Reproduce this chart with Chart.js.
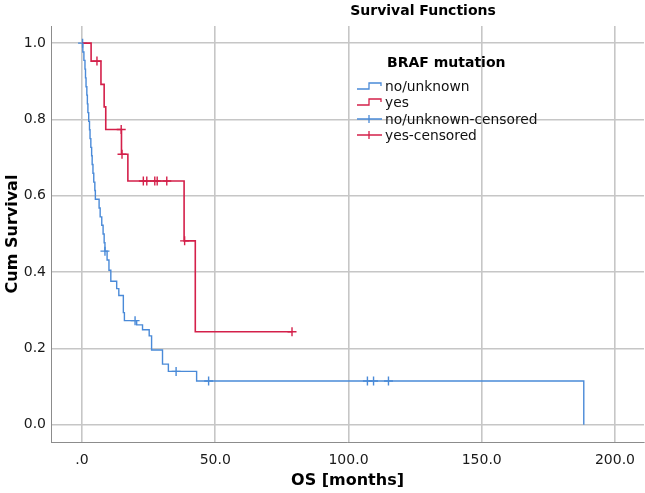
<!DOCTYPE html>
<html>
<head>
<meta charset="utf-8">
<script src="https://cdn.jsdelivr.net/npm/chart.js@4"></script>
<style>
html,body{margin:0;padding:0;background:#fff;}
#wrap{width:645px;height:493px;}
</style>
</head>
<body>
<div id="wrap"><canvas id="c" width="645" height="493"></canvas></div>
<script>
// ---- data ----
const chartTitle = 'Survival Functions';
const legendTitle = 'BRAF mutation';
const seriesNames = ['no/unknown', 'yes', 'no/unknown-censored', 'yes-censored'];

const blueTimes = [0, 0.3, 0.7, 1.1, 1.3, 1.5, 1.8, 2.0, 2.2, 2.5, 2.8, 3.0, 3.3, 3.6, 3.8, 4.1, 4.4, 4.8, 5.0, 6.4, 6.8, 7.4, 7.9, 8.3, 8.6, 9.4, 10.1, 10.8, 13.0, 13.8, 15.5, 15.9, 20.5, 22.7, 25.2, 26.1, 30.2, 32.4, 43.0, 188.3];
const blueSurv  = [1.000, 0.977, 0.955, 0.932, 0.909, 0.886, 0.864, 0.841, 0.818, 0.795, 0.773, 0.750, 0.727, 0.705, 0.682, 0.659, 0.636, 0.614, 0.591, 0.568, 0.545, 0.523, 0.500, 0.477, 0.455, 0.432, 0.405, 0.376, 0.357, 0.339, 0.294, 0.273, 0.262, 0.249, 0.233, 0.196, 0.159, 0.140, 0.115, 0.000];
const blueCensorTimes = [0.2, 8.6, 19.9, 35.3, 47.5, 107.1, 109.4, 115.0];
const blueCensorSurv  = [1.000, 0.455, 0.273, 0.140, 0.115, 0.115, 0.115, 0.115];

const redTimes = [0, 3.4, 7.1, 8.3, 8.9, 14.8, 17.2, 38.3, 42.5, 78.8];
const redSurv  = [1.000, 0.953, 0.892, 0.833, 0.774, 0.709, 0.639, 0.482, 0.244, 0.244];
const redCensorTimes = [5.6, 14.7, 15.0, 23.0, 24.3, 27.3, 28.2, 31.8, 38.5, 78.8];
const redCensorSurv  = [0.953, 0.774, 0.709, 0.639, 0.639, 0.639, 0.639, 0.639, 0.482, 0.244];

const xTicks = [0, 50, 100, 150, 200];
const xTickLabels = ['.0', '50.0', '100.0', '150.0', '200.0'];
const yTicks = [0, 0.2, 0.4, 0.6, 0.8, 1.0];
const yTickLabels = ['0.0', '0.2', '0.4', '0.6', '0.8', '1.0'];
const xTitle = 'OS [months]';
const yTitle = 'Cum Survival';

// ---- styles ----
const BLUE = '#4a8ad8';
const RED = '#d4204a';
const GRID = '#c6c6c6';
const FONT = "'DejaVu Sans', sans-serif";

function pts(xs, ys) { return xs.map((x, i) => ({x: x, y: ys[i]})); }

const overlay = {
  id: 'overlay',
  afterDraw(chart) {
    const ctx = chart.ctx;
    ctx.save();
    ctx.fillStyle = '#000';
    ctx.textBaseline = 'middle';
    ctx.font = 'bold 14px ' + FONT;
    ctx.textAlign = 'center';
    ctx.fillText(chartTitle, 423, 11);
    ctx.textAlign = 'left';
    ctx.fillText(legendTitle, 387, 63);
    ctx.font = '13.8px ' + FONT;
    const ys = [86, 102, 119, 135];
    const cols = [BLUE, RED, BLUE, RED];
    for (let i = 0; i < 4; i++) {
      const y = ys[i];
      ctx.strokeStyle = cols[i];
      ctx.lineWidth = 1.3;
      ctx.beginPath();
      if (i < 2) {
        ctx.moveTo(357, y + 3); ctx.lineTo(369, y + 3); ctx.lineTo(369, y - 3);
        ctx.lineTo(381, y - 3); ctx.lineTo(381, y);
      } else {
        ctx.moveTo(357, y); ctx.lineTo(382, y);
        ctx.moveTo(369, y - 4); ctx.lineTo(369, y + 4);
      }
      ctx.stroke();
      ctx.fillStyle = '#111';
      ctx.fillText(seriesNames[i], 385, y + 1);
    }
    ctx.restore();
  }
};

new Chart(document.getElementById('c'), {
  type: 'scatter',
  data: {
    datasets: [
      { label: seriesNames[0], data: pts(blueTimes, blueSurv), showLine: true, stepped: 'before',
        borderColor: BLUE, borderWidth: 1.4, pointRadius: 0, fill: false },
      { label: seriesNames[1], data: pts(redTimes, redSurv), showLine: true, stepped: 'before',
        borderColor: RED, borderWidth: 1.6, pointRadius: 0, fill: false },
      { label: seriesNames[2], data: pts(blueCensorTimes, blueCensorSurv), showLine: false,
        pointStyle: 'cross', pointRadius: 4.5, borderColor: BLUE, borderWidth: 1.4 },
      { label: seriesNames[3], data: pts(redCensorTimes, redCensorSurv), showLine: false,
        pointStyle: 'cross', pointRadius: 4.5, borderColor: RED, borderWidth: 1.4 }
    ]
  },
  options: {
    responsive: false,
    animation: false,
    layout: { autoPadding: false, padding: { top: 26, right: 1, left: 0, bottom: 0 } },
    plugins: { legend: { display: false }, title: { display: false }, tooltip: { enabled: false } },
    scales: {
      x: {
        type: 'linear', min: -11.65, max: 210.9,
        afterBuildTicks: s => { s.ticks = xTicks.map(v => ({value: v})); },
        afterFit: s => { s.height = 51; s.paddingLeft = 0; s.paddingRight = 0; },
        ticks: { callback: v => { const i = xTicks.indexOf(v); return i >= 0 ? xTickLabels[i] : ''; },
                 font: { family: FONT, size: 14 }, color: '#1a1a1a', padding: 10, maxRotation: 0 },
        grid: { color: GRID, lineWidth: 1.6, drawTicks: false },
        border: { color: '#8c8c8c', width: 1 },
        title: { display: true, text: xTitle, font: { family: FONT, size: 16, weight: 'bold' }, color: '#000', padding: { top: 0, bottom: 3 } }
      },
      y: {
        type: 'linear', min: -0.045, max: 1.045,
        afterBuildTicks: s => { s.ticks = yTicks.map(v => ({value: v})); },
        afterFit: s => { s.width = 51; s.paddingTop = 0; s.paddingBottom = 0; },
        ticks: { callback: v => { const i = yTicks.findIndex(t => Math.abs(t - v) < 1e-9); return i >= 0 ? yTickLabels[i] : ''; },
                 font: { family: FONT, size: 14 }, color: '#1a1a1a', padding: 5 },
        grid: { color: GRID, lineWidth: 1.6, drawTicks: false },
        border: { color: '#8c8c8c', width: 1 },
        title: { display: true, text: yTitle, font: { family: FONT, size: 16, weight: 'bold' }, color: '#000', padding: { top: 3, bottom: 2 } }
      }
    }
  },
  plugins: [overlay]
});
</script>
</body>
</html>
